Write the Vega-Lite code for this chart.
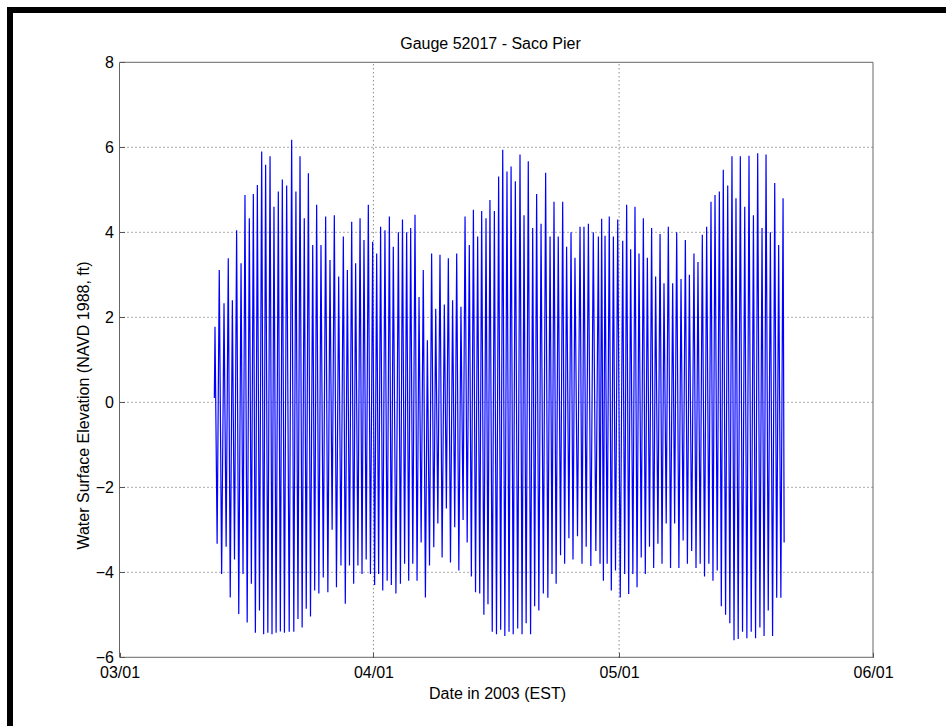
{
  "$schema": "https://vega.github.io/schema/vega-lite/v6.json",
  "width": 939,
  "height": 719,
  "autosize": {"type": "none"},
  "padding": {"left": 10, "top": 10, "right": -3, "bottom": -3},
  "background": "white",
  "config": {
    "font": "Liberation Sans",
    "view": {"fill": "white", "stroke": "black", "strokeWidth": 6}
  },
  "title": {
    "text": "Gauge 52017 - Saco Pier",
    "fontSize": 16,
    "fontWeight": "normal",
    "font": "Liberation Sans",
    "color": "black",
    "offset": -55,
    "baseline": "alphabetic",
    "anchor": "middle",
    "frame": "group",
    "dx": 11
  },
  "datasets": {
    "gauge": [
      {"d":11.58,"v":0.1},{"d":11.66,"v":1.78},{"d":11.92,"v":-3.33},{"d":12.18,"v":3.11},{"d":12.47,"v":-4.04},{"d":12.76,"v":2.33},{"d":13.02,"v":-3.4},{"d":13.28,"v":3.39},{"d":13.52,"v":-4.59},{"d":13.78,"v":2.4},
      {"d":14.04,"v":-3.7},{"d":14.30,"v":4.05},{"d":14.56,"v":-4.98},{"d":14.84,"v":3.27},{"d":15.08,"v":-4.04},{"d":15.32,"v":4.88},{"d":15.59,"v":-5.18},{"d":15.85,"v":4.33},{"d":16.10,"v":-4.27},{"d":16.34,"v":4.9},
      {"d":16.59,"v":-5.42},{"d":16.83,"v":5.11},{"d":17.09,"v":-4.9},{"d":17.36,"v":5.9},{"d":17.60,"v":-5.46},{"d":17.84,"v":5.59},{"d":18.11,"v":-5.42},{"d":18.38,"v":5.79},{"d":18.62,"v":-5.46},{"d":18.86,"v":4.6},
      {"d":19.12,"v":-5.42},{"d":19.39,"v":4.96},{"d":19.64,"v":-5.39},{"d":19.88,"v":5.24},{"d":20.14,"v":-5.42},{"d":20.41,"v":5.1},{"d":20.72,"v":-5.4},{"d":21.02,"v":6.18},{"d":21.28,"v":-5.4},{"d":21.54,"v":4.96},
      {"d":21.79,"v":-5.1},{"d":22.04,"v":5.79},{"d":22.30,"v":-5.3},{"d":22.56,"v":4.33},{"d":22.80,"v":-4.86},{"d":23.06,"v":5.39},{"d":23.32,"v":-5.04},{"d":23.59,"v":3.7},{"d":23.83,"v":-4.43},{"d":24.07,"v":4.65},
      {"d":24.34,"v":-4.5},{"d":24.60,"v":3.7},{"d":24.88,"v":-4.12},{"d":25.17,"v":4.37},{"d":25.44,"v":-4.47},{"d":25.70,"v":3.35},{"d":25.96,"v":-3.0},{"d":26.23,"v":4.4},{"d":26.49,"v":-4.35},{"d":26.76,"v":2.96},
      {"d":27.04,"v":-3.84},{"d":27.33,"v":3.9},{"d":27.57,"v":-4.74},{"d":27.82,"v":3.11},{"d":28.08,"v":-3.84},{"d":28.35,"v":4.25},{"d":28.59,"v":-4.27},{"d":28.83,"v":3.27},{"d":29.11,"v":-3.84},{"d":29.37,"v":4.33},
      {"d":29.61,"v":-4.04},{"d":29.85,"v":3.82},{"d":30.12,"v":-3.7},{"d":30.38,"v":4.65},{"d":30.64,"v":-4.04},{"d":30.91,"v":3.78},{"d":31.15,"v":-4.3},{"d":31.40,"v":3.5},{"d":31.64,"v":-4.04},{"d":31.88,"v":4.13},
      {"d":32.14,"v":-4.43},{"d":32.41,"v":4.05},{"d":32.68,"v":-4.2},{"d":32.95,"v":4.37},{"d":33.19,"v":-4.3},{"d":33.43,"v":3.66},{"d":33.75,"v":-4.5},{"d":34.05,"v":4.0},
      {"d":34.30,"v":-4.27},{"d":34.55,"v":4.3},{"d":34.81,"v":-3.8},{"d":35.06,"v":4.0},{"d":35.31,"v":-4.2},{"d":35.55,"v":4.1},{"d":35.81,"v":-3.8},{"d":36.08,"v":4.41},{"d":36.33,"v":-4.2},{"d":36.57,"v":2.48},
      {"d":36.83,"v":-3.3},{"d":37.09,"v":3.11},{"d":37.35,"v":-4.59},{"d":37.59,"v":1.46},{"d":37.85,"v":-3.84},{"d":38.11,"v":3.5},{"d":38.37,"v":-3.41},{"d":38.61,"v":2.2},{"d":38.87,"v":-2.85},{"d":39.13,"v":3.47},
      {"d":39.39,"v":-3.65},{"d":39.66,"v":2.3},{"d":39.91,"v":-2.5},{"d":40.15,"v":3.39},{"d":40.41,"v":-3.77},{"d":40.67,"v":2.4},{"d":40.93,"v":-2.94},{"d":41.17,"v":3.5},{"d":41.43,"v":-3.96},{"d":41.69,"v":2.25},
      {"d":41.95,"v":-2.77},{"d":42.19,"v":4.37},{"d":42.45,"v":-3.3},{"d":42.71,"v":3.7},{"d":42.96,"v":-4.1},{"d":43.21,"v":4.53},{"d":43.47,"v":-4.47},{"d":43.73,"v":3.9},{"d":43.98,"v":-4.5},{"d":44.22,"v":4.5},
      {"d":44.49,"v":-5.0},{"d":44.75,"v":4.33},{"d":44.99,"v":-4.75},{"d":45.23,"v":4.76},{"d":45.51,"v":-5.4},{"d":45.77,"v":4.5},{"d":46.03,"v":-5.46},{"d":46.29,"v":5.31},{"d":46.54,"v":-5.35},{"d":46.79,"v":5.94},
      {"d":47.05,"v":-5.5},{"d":47.31,"v":5.43},{"d":47.56,"v":-5.4},{"d":47.81,"v":5.55},{"d":48.07,"v":-5.46},{"d":48.33,"v":5.2},{"d":48.62,"v":-5.32},{"d":48.90,"v":5.83},{"d":49.15,"v":-5.46},{"d":49.39,"v":4.4},
      {"d":49.65,"v":-5.2},{"d":49.91,"v":5.67},{"d":50.19,"v":-5.46},{"d":50.45,"v":4.1},{"d":50.69,"v":-4.8},{"d":50.93,"v":4.9},{"d":51.20,"v":-4.9},{"d":51.47,"v":4.2},{"d":51.75,"v":-4.5},{"d":52.03,"v":5.4},
      {"d":52.30,"v":-4.6},{"d":52.57,"v":3.9},{"d":52.81,"v":-4.04},{"d":53.05,"v":4.72},{"d":53.31,"v":-4.27},{"d":53.57,"v":3.9},{"d":53.85,"v":-3.6},{"d":54.11,"v":4.72},{"d":54.35,"v":-3.8},{"d":54.59,"v":3.66},
      {"d":54.87,"v":-3.2},{"d":55.13,"v":4.0},{"d":55.37,"v":-3.7},{"d":55.61,"v":3.4},{"d":55.92,"v":-3.15},{"d":56.23,"v":4.13},{"d":56.47,"v":-3.8},{"d":56.71,"v":4.13},{"d":56.98,"v":-3.4},{"d":57.25,"v":4.2},
      {"d":57.55,"v":-3.85},{"d":57.85,"v":4.0},{"d":58.16,"v":-3.5},{"d":58.47,"v":3.9},{"d":58.67,"v":-3.8},
      {"d":58.87,"v":4.32},{"d":59.08,"v":-4.2},{"d":59.28,"v":3.92},{"d":59.54,"v":-3.8},{"d":59.80,"v":4.37},{"d":60.05,"v":-4.43},{"d":60.30,"v":3.9},{"d":60.56,"v":-3.96},{"d":60.83,"v":4.3},{"d":61.14,"v":-4.59},
      {"d":61.44,"v":3.8},{"d":61.68,"v":-4.04},{"d":61.92,"v":4.65},{"d":62.17,"v":-4.51},{"d":62.41,"v":3.6},{"d":62.68,"v":-4.04},{"d":62.94,"v":4.6},{"d":63.19,"v":-4.35},{"d":63.43,"v":3.5},{"d":63.70,"v":-3.65},
      {"d":63.96,"v":4.33},{"d":64.20,"v":-4.04},{"d":64.45,"v":3.4},{"d":64.71,"v":-3.4},{"d":64.97,"v":4.1},{"d":65.22,"v":-3.9},{"d":65.46,"v":2.96},{"d":65.74,"v":-3.33},{"d":66.00,"v":3.96},{"d":66.24,"v":-3.8},
      {"d":66.48,"v":2.8},{"d":66.75,"v":-2.85},{"d":67.01,"v":4.13},{"d":67.28,"v":-3.9},{"d":67.54,"v":2.8},{"d":67.78,"v":-2.85},{"d":68.03,"v":4.0},{"d":68.30,"v":-3.9},{"d":68.56,"v":2.9},{"d":68.82,"v":-3.25},
      {"d":69.09,"v":3.82},{"d":69.34,"v":-3.8},{"d":69.58,"v":3.0},{"d":69.86,"v":-3.5},{"d":70.14,"v":3.5},{"d":70.39,"v":-3.9},{"d":70.63,"v":3.3},{"d":70.90,"v":-3.8},{"d":71.16,"v":3.94},{"d":71.43,"v":-4.1},
      {"d":71.69,"v":4.13},{"d":71.96,"v":-3.8},{"d":72.22,"v":4.72},{"d":72.46,"v":-4.2},{"d":72.71,"v":4.88},{"d":72.98,"v":-3.96},{"d":73.24,"v":4.96},{"d":73.48,"v":-4.8},{"d":73.72,"v":5.47},{"d":74.00,"v":-5.0},
      {"d":74.26,"v":5.1},{"d":74.52,"v":-5.2},{"d":74.78,"v":5.79},{"d":75.03,"v":-5.6},{"d":75.27,"v":4.8},{"d":75.54,"v":-5.57},{"d":75.80,"v":5.79},{"d":76.07,"v":-5.4},{"d":76.34,"v":4.6},{"d":76.60,"v":-5.55},
      {"d":76.86,"v":5.8},{"d":77.13,"v":-5.4},{"d":77.40,"v":4.4},{"d":77.66,"v":-5.55},{"d":77.92,"v":5.86},{"d":78.19,"v":-5.3},{"d":78.45,"v":4.1},{"d":78.70,"v":-5.5},{"d":78.94,"v":5.83},{"d":79.21,"v":-4.9},
      {"d":79.47,"v":4.0},{"d":79.74,"v":-5.5},{"d":80.00,"v":5.16},{"d":80.24,"v":-4.6},{"d":80.48,"v":3.7},{"d":80.75,"v":-4.6},{"d":81.02,"v":4.8},{"d":81.15,"v":-3.3}
    ],
    "gridx": [{"d": 31}, {"d": 61}],
    "gridy": [{"v": -4}, {"v": -2}, {"v": 0}, {"v": 2}, {"v": 4}, {"v": 6}]
  },
  "layer": [
    {
      "data": {"name": "gridx"},
      "mark": {"type": "rule", "color": "#555555", "strokeWidth": 1, "strokeDash": [1, 3]},
      "encoding": {
        "x": {"field": "d", "type": "quantitative", "scale": {"domain": [-13.37, 101.279], "nice": false, "zero": false}},
        "y": {"datum": -6, "type": "quantitative", "scale": {"domain": [-7.687, 9.2306], "nice": false, "zero": false}},
        "y2": {"datum": 8}
      }
    },
    {
      "data": {"name": "gridy"},
      "mark": {"type": "rule", "color": "#555555", "strokeWidth": 1, "strokeDash": [1, 3]},
      "encoding": {
        "y": {"field": "v", "type": "quantitative", "scale": {"domain": [-7.687, 9.2306], "nice": false, "zero": false}},
        "x": {"datum": 0, "type": "quantitative", "scale": {"domain": [-13.37, 101.279], "nice": false, "zero": false}},
        "x2": {"datum": 92}
      }
    },
    {
      "data": {"name": "gauge"},
      "mark": {"type": "line", "color": "#0000ff", "strokeWidth": 1.2},
      "encoding": {
        "x": {
          "field": "d", "type": "quantitative",
          "scale": {"domain": [-13.37, 101.279], "nice": false, "zero": false},
          "axis": {
            "values": [0, 31, 61, 92],
            "labelExpr": "datum.value == 0 ? '03/01' : datum.value == 31 ? '04/01' : datum.value == 61 ? '05/01' : '06/01'",
            "title": "Date in 2003 (EST)",
            "offset": -71.7,
            "domain": false,
            "grid": false,
            "ticks": true,
            "tickSize": -5,
            "tickColor": "#555555",
            "labelPadding": 12,
            "labelFontSize": 16,
            "labelColor": "black",
            "labelFlush": false,
            "labelOverlap": false,
            "titleFontSize": 16,
            "titleFontWeight": "normal",
            "titleColor": "black",
            "titlePadding": 5,
            "titleX": 487,
            "zindex": 2
          }
        },
        "y": {
          "field": "v", "type": "quantitative",
          "scale": {"domain": [-7.687, 9.2306], "nice": false, "zero": false},
          "axis": {
            "values": [-6, -4, -2, 0, 2, 4, 6, 8],
            "title": "Water Surface Elevation (NAVD 1988, ft)",
            "offset": -109.5,
            "domain": false,
            "grid": false,
            "ticks": true,
            "tickSize": -5,
            "tickColor": "#555555",
            "labelPadding": 11,
            "labelFontSize": 16,
            "labelColor": "black",
            "labelFlush": false,
            "labelOverlap": false,
            "titleFontSize": 16,
            "titleFontWeight": "normal",
            "titleColor": "black",
            "titlePadding": 4,
            "titleY": 395,
            "zindex": 2
          }
        }
      }
    },
    {
      "data": {"values": [{}]},
      "mark": {"type": "rect", "filled": false, "stroke": "#666666", "strokeWidth": 1},
      "encoding": {
        "x": {"datum": 0, "type": "quantitative", "scale": {"domain": [-13.37, 101.279], "nice": false, "zero": false}},
        "x2": {"datum": 92},
        "y": {"datum": -6, "type": "quantitative", "scale": {"domain": [-7.687, 9.2306], "nice": false, "zero": false}},
        "y2": {"datum": 8}
      }
    }
  ]
}
